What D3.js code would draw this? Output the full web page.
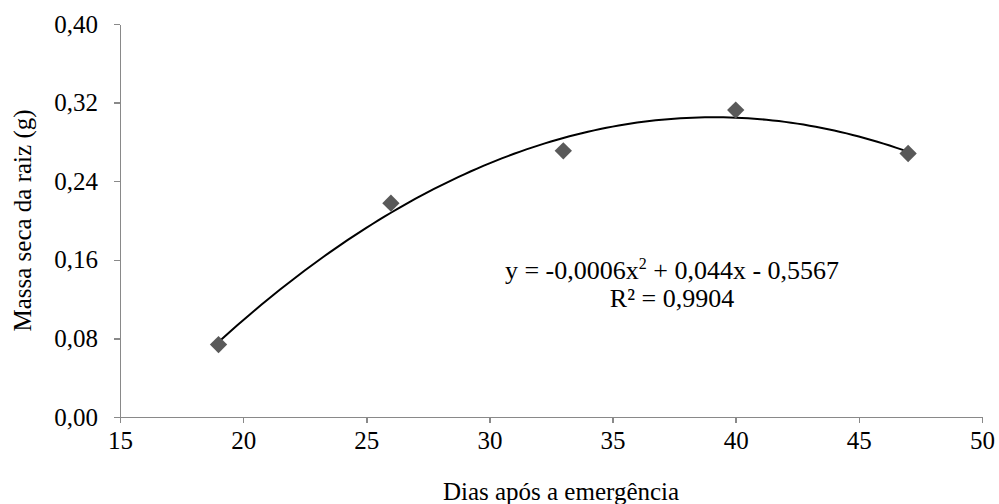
<!DOCTYPE html>
<html>
<head>
<meta charset="utf-8">
<script src="https://cdn.jsdelivr.net/npm/d3@7"></script>
<style>
  body { margin: 0; background: #fff; }
  text { font-family: "Liberation Serif", "Times New Roman", serif; fill: #000; }
  .axis path, .axis line { stroke: #898989; stroke-width: 1.5; shape-rendering: crispEdges; }
</style>
</head>
<body>
<script>
// observed data
var dias = [19, 26, 33, 40, 47];
var massa = [0.0737, 0.2176, 0.2709, 0.3124, 0.2682];

var xTicks = [15, 20, 25, 30, 35, 40, 45, 50];
var yTicks = [0, 0.08, 0.16, 0.24, 0.32, 0.40];

var eqText = "y = -0,0006x";
var eqSup = "2";
var eqRest = " + 0,044x - 0,5567";
var r2Text = "R² = 0,9904";
var xTitle = "Dias após a emergência";
var yTitle = "Massa seca da raiz (g)";

var W = 999, H = 504;
var margin = {left: 120, right: 17, top: 24, bottom: 87};

var svg = d3.select("body").append("svg").attr("width", W).attr("height", H);

var x = d3.scaleLinear().domain([15, 50]).range([margin.left, W - margin.right]);
var y = d3.scaleLinear().domain([0, 0.40]).range([H - margin.bottom, margin.top]);

var fmt = function (d) { return d3.format(".2f")(d).replace(".", ","); };

var xAxis = svg.append("g").attr("class", "axis")
    .attr("transform", "translate(0," + y(0) + ")")
    .call(d3.axisBottom(x).tickValues(xTicks).tickSize(6).tickSizeOuter(0).tickPadding(8));
xAxis.selectAll("text").style("font-size", "25px");

var yAxis = svg.append("g").attr("class", "axis")
    .attr("transform", "translate(" + x(15) + ",0)")
    .call(d3.axisLeft(y).tickValues(yTicks).tickFormat(fmt).tickSize(6).tickSizeOuter(0).tickPadding(16));
yAxis.selectAll("text").style("font-size", "25px");

// axis titles
svg.append("text")
    .attr("x", (x(15) + x(50)) / 2 + 10).attr("y", 500)
    .attr("text-anchor", "middle").style("font-size", "25px")
    .text(xTitle);
svg.append("text")
    .attr("transform", "translate(31," + ((y(0) + y(0.4)) / 2) + ") rotate(-90)")
    .attr("text-anchor", "middle").style("font-size", "25px")
    .text(yTitle);

// quadratic least squares trendline (like Excel's polynomial trend)
function polyFit(xs, ys) {
  var n = xs.length, s = [0, 0, 0, 0, 0], t = [0, 0, 0];
  for (var i = 0; i < n; i++) {
    var p = 1;
    for (var k = 0; k < 5; k++) { s[k] += p; if (k < 3) t[k] += p * ys[i]; p *= xs[i]; }
  }
  var A = [[s[0], s[1], s[2], t[0]], [s[1], s[2], s[3], t[1]], [s[2], s[3], s[4], t[2]]];
  for (var c = 0; c < 3; c++) {
    for (var r = c + 1; r < 3; r++) {
      var f = A[r][c] / A[c][c];
      for (var j = c; j < 4; j++) A[r][j] -= f * A[c][j];
    }
  }
  var b = [0, 0, 0];
  for (var r2 = 2; r2 >= 0; r2--) {
    var sum = A[r2][3];
    for (var j2 = r2 + 1; j2 < 3; j2++) sum -= A[r2][j2] * b[j2];
    b[r2] = sum / A[r2][r2];
  }
  return b;
}
var coef = polyFit(dias, massa);
var trend = d3.range(dias[0], dias[dias.length - 1] + 0.01, 0.25).map(function (d) {
  return [d, coef[0] + coef[1] * d + coef[2] * d * d];
});

svg.append("path")
    .datum(trend)
    .attr("fill", "none").attr("stroke", "#000").attr("stroke-width", 2)
    .attr("d", d3.line().x(function (d) { return x(d[0]); }).y(function (d) { return y(d[1]); }));

// markers
var sym = d3.symbol().type(d3.symbolSquare).size(150);
svg.selectAll("path.pt")
    .data(dias).enter().append("path")
    .attr("class", "pt")
    .attr("d", sym)
    .attr("fill", "#595959")
    .attr("transform", function (d, i) { return "translate(" + x(d) + "," + y(massa[i]) + ") rotate(45)"; });

// equation label
var eq = svg.append("text")
    .attr("x", 672).attr("y", 279)
    .attr("text-anchor", "middle").style("font-size", "26px");
eq.append("tspan").text(eqText);
eq.append("tspan").attr("dy", -10).style("font-size", "16px").text(eqSup);
eq.append("tspan").attr("dy", 10).text(eqRest);
svg.append("text")
    .attr("x", 672).attr("y", 307)
    .attr("text-anchor", "middle").style("font-size", "26px")
    .text(r2Text);
</script>
</body>
</html>
